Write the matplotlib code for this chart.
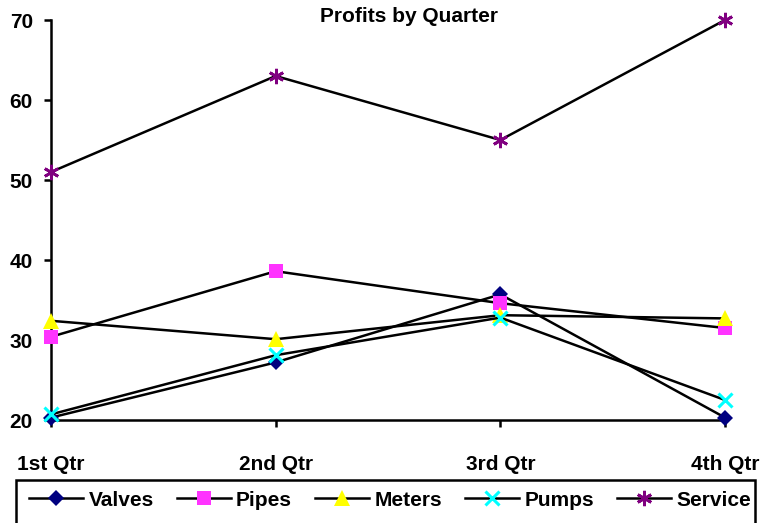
#!/usr/bin/env python

import matplotlib
matplotlib.use('Agg')
import matplotlib.pyplot as plt
from matplotlib.patches import Rectangle
import numpy as np

plt.rcParams['font.family'] = 'Liberation Sans'
plt.rcParams['font.weight'] = 'bold'
plt.rcParams['font.size'] = 15

# Values
quarters = ['1st Qtr', '2nd Qtr', '3rd Qtr', '4th Qtr']
valves = [20.3, 27.2, 35.7, 20.3]
pipes = [30.4, 38.6, 34.6, 31.5]
meters = [32.4, 30.1, 33.1, 32.7]
pumps = [20.7, 28.1, 32.8, 22.5]
service = [51, 63, 55, 70]

names = ['Valves', 'Pipes', 'Meters', 'Pumps', 'Service']
series = [valves, pipes, meters, pumps, service]

styles = [
    dict(marker='D', markersize=8, color='#000080', mew=0),
    dict(marker='s', markersize=10, color='#FF33FF', mew=0),
    dict(marker='^', markersize=11, color='#FFFF00', mew=0),
    dict(marker='x', markersize=10, color='#00FFFF', mew=2.2),
    dict(marker=(6, 2, 0), markersize=11, color='#800080', mew=2),
]

W, H = 761, 523
fig = plt.figure(figsize=(W / 100, H / 100), dpi=100)
ax = fig.add_axes([51 / W, 1 - 420 / H, (725 - 51) / W, 400 / H])

x = np.arange(len(quarters))
for name, vals, st in zip(names, series, styles):
    ax.plot(x, vals, color='black', lw=1.8, marker=st['marker'],
            markersize=st['markersize'], markerfacecolor=st['color'],
            markeredgecolor=st['color'], markeredgewidth=st['mew'],
            label=name, clip_on=False, zorder=3)

ax.set_xlim(0, 3)
ax.set_ylim(20, 70)
ax.set_yticks(np.arange(20, 71, 10))
ax.set_xticks(x)
ax.set_xticklabels(quarters)

for s in ['top', 'right']:
    ax.spines[s].set_visible(False)
for s in ['left', 'bottom']:
    ax.spines[s].set_linewidth(1.8)
ax.tick_params(axis='y', direction='out', length=5, width=1.8, pad=8)
ax.tick_params(axis='x', direction='out', length=5, width=1.8, pad=20)

fig.text(409 / W, 1 - 17 / H, 'Profits by Quarter', ha='center', va='center',
         fontweight='bold')

# legend box, cut by the bottom edge like the original
fig.patches.append(Rectangle((15.7 / W, -0.05), (755 - 15.7) / W, 0.05 + 1 - 480 / H,
                             transform=fig.transFigure, fill=False,
                             edgecolor='black', lw=1.8))
fig.legend(loc='center left', bbox_to_anchor=(29 / W, 1 - 500 / H), ncol=5,
           frameon=False, borderpad=0, borderaxespad=0, handlelength=2.6,
           handletextpad=0.25, columnspacing=1.1)

fig.savefig('out.png', dpi=100)
